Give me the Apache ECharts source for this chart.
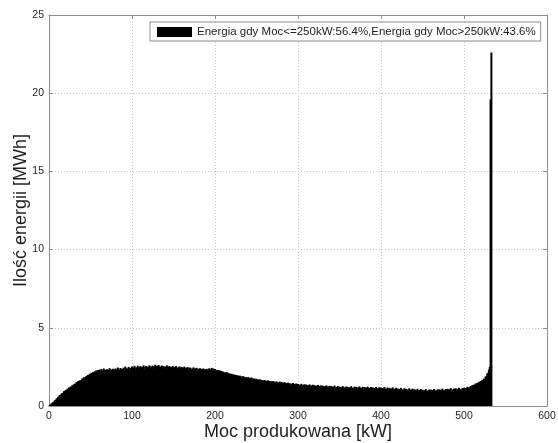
<!DOCTYPE html>
<html>
<head>
<meta charset="utf-8">
<script src="https://cdn.jsdelivr.net/npm/echarts@6/dist/echarts.min.js"></script>
<style>
  html, body { margin: 0; padding: 0; background: #ffffff; }
  #chart { width: 558px; height: 443px; }
</style>
</head>
<body>
<div id="chart"></div>
<script>
// Produced power bins, 1 kW wide, starting at 0 kW
const binStart = 0;
const binStep = 1;

// Energy per power bin [MWh], bins 0..533 kW
const energy = [
  0.02,0.07,0.09,0.16,0.19,0.26,0.28,0.36,0.39,0.47,
  0.5,0.58,0.6,0.7,0.68,0.79,0.82,0.84,0.95,0.93,
  1.02,1.0,1.1,1.08,1.19,1.14,1.24,1.22,1.33,1.3,
  1.38,1.43,1.4,1.52,1.48,1.59,1.55,1.63,1.66,1.64,
  1.76,1.72,1.84,1.8,1.85,1.93,1.88,1.98,1.95,2.06,
  2.0,2.12,2.06,2.16,2.1,2.22,2.13,2.28,2.17,2.3,
  2.18,2.33,2.12,2.36,2.22,2.29,2.4,2.14,2.32,2.25,
  2.36,2.18,2.3,2.42,2.2,2.34,2.26,2.38,2.15,2.32,
  2.4,2.22,2.35,2.46,2.24,2.31,2.43,2.2,2.38,2.28,
  2.45,2.3,2.52,2.26,2.41,2.35,2.5,2.24,2.44,2.37,
  2.52,2.3,2.46,2.57,2.33,2.48,2.4,2.58,2.34,2.47,
  2.55,2.36,2.5,2.42,2.6,2.35,2.49,2.56,2.38,2.52,
  2.44,2.6,2.37,2.53,2.47,2.58,2.36,2.51,2.64,2.42,
  2.56,2.4,2.62,2.48,2.53,2.38,2.59,2.45,2.55,2.36,
  2.52,2.44,2.6,2.37,2.5,2.56,2.35,2.49,2.42,2.57,
  2.38,2.5,2.43,2.55,2.34,2.47,2.4,2.53,2.32,2.46,
  2.5,2.36,2.44,2.52,2.31,2.45,2.39,2.49,2.3,2.43,
  2.46,2.3,2.4,2.36,2.47,2.26,2.41,2.33,2.44,2.25,
  2.38,2.28,2.42,2.24,2.37,2.31,2.4,2.22,2.35,2.3,
  2.38,2.25,2.34,2.41,2.27,2.36,2.44,2.28,2.4,2.33,
  2.36,2.22,2.31,2.25,2.3,2.16,2.27,2.12,2.24,2.1,
  2.2,2.06,2.15,2.09,2.17,1.99,2.12,2.03,2.08,1.96,
  2.06,1.94,2.03,1.9,2.0,1.86,1.98,1.89,1.95,1.84,
  1.94,1.82,1.9,1.78,1.91,1.8,1.86,1.75,1.84,1.77,
  1.85,1.7,1.8,1.74,1.82,1.66,1.77,1.7,1.75,1.64,
  1.74,1.6,1.7,1.62,1.71,1.57,1.67,1.59,1.65,1.55,
  1.66,1.52,1.62,1.56,1.64,1.5,1.6,1.48,1.58,1.51,
  1.6,1.45,1.55,1.49,1.58,1.42,1.53,1.46,1.56,1.43,
  1.54,1.4,1.5,1.44,1.52,1.37,1.47,1.41,1.49,1.35,
  1.46,1.33,1.43,1.38,1.47,1.31,1.42,1.35,1.44,1.3,
  1.4,1.27,1.37,1.32,1.42,1.25,1.36,1.29,1.39,1.26,
  1.37,1.23,1.33,1.28,1.38,1.21,1.32,1.26,1.36,1.22,
  1.33,1.2,1.3,1.25,1.35,1.18,1.29,1.22,1.32,1.19,
  1.3,1.16,1.27,1.21,1.32,1.15,1.26,1.2,1.29,1.14,
  1.28,1.13,1.24,1.18,1.3,1.12,1.22,1.17,1.27,1.11,
  1.24,1.1,1.21,1.15,1.27,1.09,1.2,1.13,1.25,1.08,
  1.22,1.08,1.2,1.13,1.26,1.07,1.18,1.12,1.24,1.06,
  1.22,1.07,1.19,1.12,1.25,1.06,1.17,1.11,1.23,1.05,
  1.21,1.06,1.18,1.11,1.24,1.05,1.16,1.1,1.22,1.04,
  1.19,1.04,1.16,1.09,1.22,1.03,1.14,1.08,1.2,1.02,
  1.17,1.02,1.14,1.07,1.21,1.01,1.12,1.06,1.18,1.0,
  1.16,1.0,1.12,1.05,1.19,0.99,1.1,1.04,1.16,0.98,
  1.12,0.97,1.09,1.02,1.16,0.95,1.07,1.0,1.13,0.94,
  1.1,0.95,1.06,1.0,1.13,0.93,1.05,0.98,1.11,0.92,
  1.07,0.92,1.04,0.97,1.1,0.9,1.02,0.95,1.08,0.89,
  1.04,0.89,1.01,0.94,1.08,0.87,0.99,0.92,1.05,0.86,
  1.05,0.9,1.02,0.95,1.09,0.88,1.0,0.93,1.06,0.87,
  1.07,0.92,1.04,0.97,1.11,0.9,1.02,0.95,1.08,0.89,
  1.1,0.95,1.07,1.0,1.14,0.93,1.05,0.98,1.11,0.92,
  1.13,0.98,1.1,1.03,1.17,0.96,1.08,1.01,1.14,0.95,
  1.17,1.04,1.15,1.1,1.23,1.08,1.2,1.15,1.28,1.14,
  1.34,1.22,1.37,1.3,1.44,1.33,1.48,1.4,1.55,1.47,
  1.6,1.54,1.67,1.63,1.75,1.72,1.88,1.9,2.08,2.12,
  2.32,2.5,19.6,22.6
];

// Axis ticks
const xTicks = [0, 100, 200, 300, 400, 500, 600];
const yTicks = [0, 5, 10, 15, 20, 25];

const seriesName = 'Energia gdy Moc<=250kW:56.4%,Energia gdy Moc>250kW:43.6%';
const xTitle = 'Moc produkowana [kW]';
const yTitle = 'Ilość energii [MWh]';

const frameColor = '#8e8e8e';
const textColor = '#1e1e1e';
const font = 'Liberation Sans, Arial, sans-serif';

const points = energy.map((v, i) => [binStart + i * binStep, v]);

const chart = echarts.init(document.getElementById('chart'), null, { renderer: 'canvas' });

const baseAxis = {
  type: 'value',
  axisLine: { show: true, onZero: false, lineStyle: { color: frameColor, width: 1 } },
  axisTick: { show: true, inside: true, length: 4, lineStyle: { color: frameColor } },
  splitLine: { show: false }
};

chart.setOption({
  animation: false,
  backgroundColor: '#ffffff',
  grid: { left: 49, right: 11, top: 15, bottom: 37, containLabel: false, outerBoundsMode: 'none' },
  legend: {
    show: true,
    left: 150,
    top: 22,
    orient: 'horizontal',
    padding: [4, 5, 3, 7],
    itemWidth: 35,
    itemHeight: 10,
    borderColor: '#8a8a8a',
    borderWidth: 1,
    borderRadius: 0,
    backgroundColor: '#ffffff',
    selectedMode: false,
    icon: 'rect',
    textStyle: { fontFamily: font, fontSize: 11.5, color: textColor },
    data: [{ name: seriesName, icon: 'rect' }]
  },
  xAxis: [
    Object.assign({}, baseAxis, {
      position: 'bottom',
      min: xTicks[0], max: xTicks[xTicks.length - 1], interval: 100,
      axisLabel: { show: true, margin: 5, fontFamily: font, fontSize: 10.5, color: textColor },
      splitLine: { show: true, lineStyle: { color: '#c4c4c4', type: [1, 2], width: 1 } },
      name: xTitle,
      nameLocation: 'middle',
      nameGap: 17,
      nameMoveOverlap: false,
      nameTextStyle: { fontFamily: font, fontSize: 18, color: textColor }
    }),
    Object.assign({}, baseAxis, {
      position: 'top',
      min: xTicks[0], max: xTicks[xTicks.length - 1], interval: 100,
      axisLabel: { show: false }
    })
  ],
  yAxis: [
    Object.assign({}, baseAxis, {
      position: 'left',
      min: yTicks[0], max: yTicks[yTicks.length - 1], interval: 5,
      axisLabel: { show: true, margin: 5, fontFamily: font, fontSize: 10.5, color: textColor },
      splitLine: { show: true, lineStyle: { color: '#c4c4c4', type: [1, 2], width: 1 } },
      name: yTitle,
      nameLocation: 'middle',
      nameGap: 19,
      nameRotate: 90,
      nameMoveOverlap: false,
      nameTextStyle: { fontFamily: font, fontSize: 18, color: textColor }
    }),
    Object.assign({}, baseAxis, {
      position: 'right',
      min: yTicks[0], max: yTicks[yTicks.length - 1], interval: 5,
      axisLabel: { show: false }
    })
  ],
  series: [
    {
      name: seriesName,
      type: 'bar',
      xAxisIndex: 0,
      yAxisIndex: 0,
      data: points,
      barWidth: 2,
      barMinWidth: 2,
      itemStyle: { color: '#000000' },
      emphasis: { disabled: true },
      silent: true
    }
  ]
});
</script>
</body>
</html>
